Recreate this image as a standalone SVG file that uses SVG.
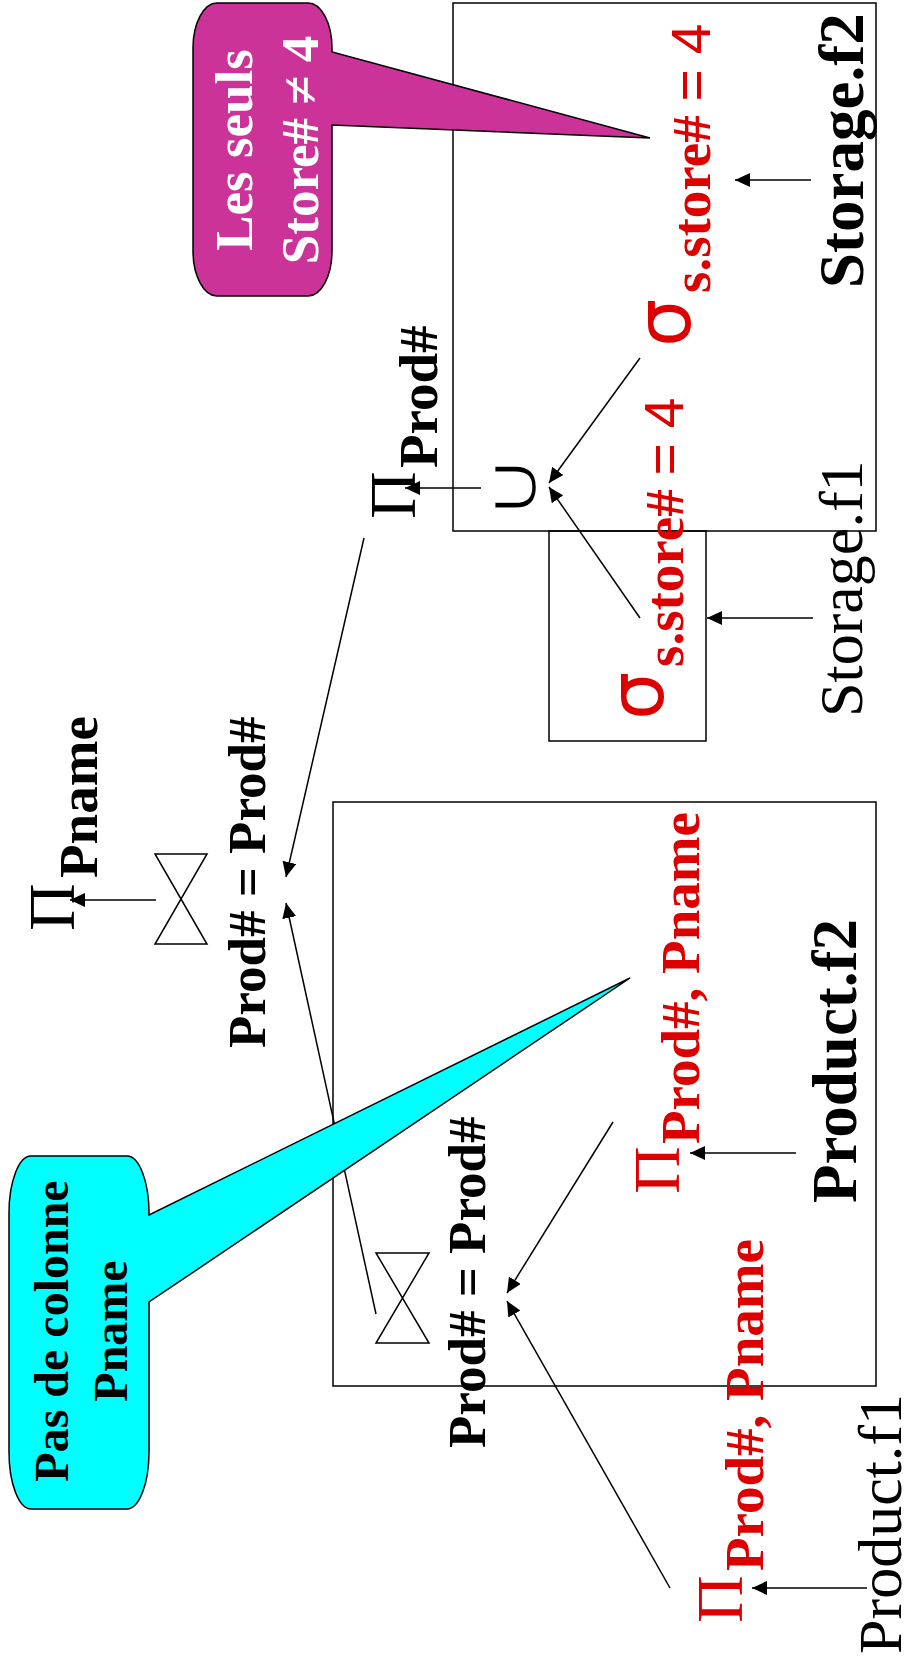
<svg xmlns="http://www.w3.org/2000/svg" width="914" height="1668" viewBox="0 0 914 1668">
<style>
text{font-family:"Liberation Serif","Times New Roman",serif;fill:#000}
.b{font-weight:bold}
.red{fill:#DD0000}
.pi{font-size:66px}
.sub{font-size:55px;font-weight:bold}
.sig{font-size:76px;font-family:"DejaVu Sans",sans-serif}
.eq{font-family:"Liberation Sans",Arial,sans-serif;font-weight:normal}
.rel{font-size:62px}
.box{fill:none;stroke:#000;stroke-width:1.5}
.jn{fill:none;stroke:#000;stroke-width:1.5;stroke-linejoin:miter}
#connectors line{stroke:#000;stroke-width:1.5;marker-end:url(#ah)}
.callout{stroke:#000;stroke-width:1.5}
</style>
<defs>
<marker id="ah" viewBox="0 0 15 14" refX="15" refY="7" markerWidth="15" markerHeight="14" orient="auto" markerUnits="userSpaceOnUse">
<path d="M0,0 L15,7 L0,14 z" fill="#000"/>
</marker>
</defs>
<rect width="914" height="1668" fill="#fff"/>

<g id="storage-f2-box"><rect class="box" x="453" y="3" width="423" height="528"/></g>
<g id="storage-f1-box"><rect class="box" x="549" y="531" width="157" height="210"/></g>
<g id="product-f2-box"><rect class="box" x="333" y="802" width="543" height="584"/></g>

<g id="connectors">
<line x1="811" y1="180" x2="735" y2="180"/>
<line x1="640" y1="358" x2="549" y2="483"/>
<line x1="640" y1="618" x2="549" y2="487"/>
<line x1="813" y1="618" x2="707" y2="618"/>
<line x1="481" y1="488" x2="405" y2="488"/>
<line x1="364" y1="538" x2="286" y2="877"/>
<line x1="376" y1="1314" x2="286" y2="903"/>
<line x1="156" y1="900" x2="70" y2="900"/>
<line x1="796" y1="1153" x2="690" y2="1153"/>
<line x1="613" y1="1122" x2="507" y2="1293"/>
<line x1="670" y1="1588" x2="507" y2="1301"/>
<line x1="867" y1="1588" x2="752" y2="1588"/>
</g>

<g id="storage-f2"><text class="b" font-size="63" transform="rotate(-90)" x="-288" y="863">Storage.f2</text></g>
<g id="storage-f1"><text class="rel" transform="rotate(-90)" x="-717" y="862">Storage.f1</text></g>
<g id="product-f2"><text class="b" font-size="63" transform="rotate(-90)" x="-1203" y="856">Product.f2</text></g>
<g id="product-f1"><text class="rel" transform="rotate(-90)" x="-1654" y="901">Product.f1</text></g>

<g id="select-f2"><text class="red" transform="rotate(-90)"><tspan class="sig" x="-347" y="690">σ</tspan><tspan class="sub" x="-293" y="710">s.store# <tspan class="eq">= 4</tspan></tspan></text></g>
<g id="select-f1"><text class="red" transform="rotate(-90)"><tspan class="sig" x="-720" y="663">σ</tspan><tspan class="sub" x="-667" y="683">s.store# <tspan class="eq">= 4</tspan></tspan></text></g>

<g id="union"><text font-family="'Noto Sans CJK JP',sans-serif" font-size="92" text-anchor="middle" stroke="#fff" stroke-width="3" transform="translate(537,487.5) rotate(-90) scale(1,0.8)" x="0" y="0">∪</text></g>

<g id="proj-prod"><text transform="rotate(-90)"><tspan class="pi" x="-519" y="415">Π</tspan><tspan class="sub" x="-468" y="437">Prod#</tspan></text></g>
<g id="proj-pname"><text transform="rotate(-90)"><tspan class="pi" x="-931" y="74">Π</tspan><tspan class="sub" x="-878" y="97">Pname</tspan></text></g>
<g id="proj-f2"><text class="red" transform="rotate(-90)"><tspan class="pi" x="-1194" y="679">Π</tspan><tspan class="sub" font-size="56" x="-1144" y="699">Prod#, Pname</tspan></text></g>
<g id="proj-f1"><text class="red" transform="rotate(-90)"><tspan class="pi" x="-1623" y="742">Π</tspan><tspan class="sub" font-size="56" x="-1571" y="763">Prod#, Pname</tspan></text></g>

<g id="join-top">
<path class="jn" d="M155,854 H207 L155,944 H207 Z"/>
<text class="b" font-size="53" transform="rotate(-90)" x="-1048" y="265">Prod# = Prod#</text>
</g>
<g id="join-bottom">
<path class="jn" d="M376,1253 H429 L376,1343 H429 Z"/>
<text class="b" font-size="53" transform="rotate(-90)" x="-1448" y="485">Prod# = Prod#</text>
</g>

<g id="callout-magenta">
<path class="callout" fill="#CC3399" d="M217,3 H308 A24,45 0 0 1 332,48 V52 L650,138 L332,125 V251 A24,45 0 0 1 308,296 H217 A24,45 0 0 1 193,251 V48 A24,45 0 0 1 217,3 Z"/>
<text class="b" font-size="53" text-anchor="middle" style="fill:#fff" transform="rotate(-90)"><tspan x="-150" y="252">Les seuls</tspan><tspan x="-150" y="318">Store# ≠ 4</tspan></text>
</g>
<g id="callout-cyan">
<path class="callout" fill="#00FFFF" d="M31,1156 H127 A22,57 0 0 1 149,1213 V1215 L630,978 L149,1302 V1452 A22,57 0 0 1 127,1509 H31 A22,57 0 0 1 9,1452 V1213 A22,57 0 0 1 31,1156 Z"/>
<text class="b" font-size="48" text-anchor="middle" transform="rotate(-90)"><tspan x="-1331" y="68">Pas de colonne</tspan><tspan x="-1331" y="127">Pname</tspan></text>
</g>
</svg>
